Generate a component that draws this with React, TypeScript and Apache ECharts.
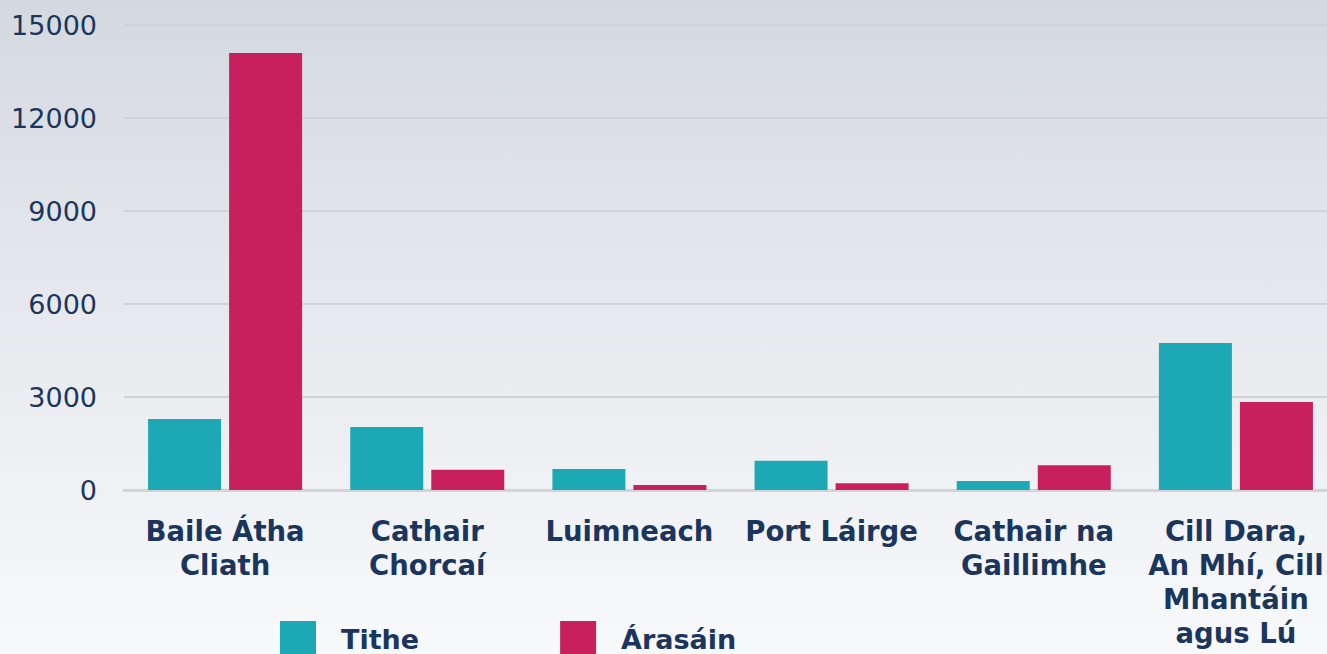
import React, { useEffect, useRef } from "react";
import * as echarts from "echarts";

const categories = [
  "Baile Átha\nCliath",
  "Cathair\nChorcaí",
  "Luimneach",
  "Port Láirge",
  "Cathair na\nGaillimhe",
  "Cill Dara,\nAn Mhí, Cill\nMhantáin\nagus Lú",
];
const tithe = [2290, 2030, 680, 940, 290, 4740];
const arasain = [14100, 650, 160, 220, 800, 2840];
const seriesNames = ["Tithe", "Árasáin"];
const yTicks = { min: 0, max: 15000, interval: 3000 };

const NAVY = "#1b365d";
const FONT = "'DejaVu Sans', sans-serif";

export default function App() {
  const ref = useRef<HTMLDivElement>(null);
  useEffect(() => {
    if (!ref.current) return;
    const chart = echarts.init(ref.current, null, { renderer: "svg" });
    chart.setOption({
      animation: false,
      backgroundColor: "transparent",
      grid: { left: 124, right: 0, top: 25, bottom: 164, containLabel: false },
      legend: {
        data: seriesNames,
        left: 280,
        top: 621,
        padding: 0,
        itemWidth: 36,
        itemHeight: 36,
        itemGap: 141,
        icon: "rect",
        textStyle: {
          color: NAVY,
          fontFamily: FONT,
          fontWeight: "bold",
          fontSize: 27,
          padding: [0, 0, 0, 20],
        },
      },
      xAxis: {
        type: "category",
        data: categories,
        axisLine: { show: true, lineStyle: { color: "#d3d4d7", width: 3 } },
        axisTick: { show: false },
        axisLabel: {
          interval: 0,
          color: NAVY,
          fontFamily: FONT,
          fontWeight: "bold",
          fontSize: 27.5,
          lineHeight: 34,
          margin: 24,
        },
      },
      yAxis: {
        type: "value",
        min: yTicks.min,
        max: yTicks.max,
        interval: yTicks.interval,
        axisLine: { show: false },
        axisTick: { show: false },
        splitLine: { lineStyle: { color: "#d0d2d6", width: 2 } },
        axisLabel: {
          color: NAVY,
          fontFamily: FONT,
          fontSize: 27,
          margin: 27,
          formatter: (v: number) => String(v),
        },
      },
      series: [
        {
          name: seriesNames[0],
          type: "bar",
          data: tithe,
          barWidth: 73,
          barGap: "11%",
          itemStyle: { color: "#1da8b5" },
        },
        {
          name: seriesNames[1],
          type: "bar",
          data: arasain,
          barWidth: 73,
          barGap: "11%",
          itemStyle: { color: "#c8205c" },
        },
      ],
    });
    return () => chart.dispose();
  }, []);
  return (
    <div
      style={{
        position: "fixed",
        left: 0,
        top: 0,
        width: 1327,
        height: 654,
        background: "linear-gradient(180deg, #d4d9e0 0%, #e6e8ed 45%, #f8f9fb 100%)",
        overflow: "hidden",
      }}
    >
      <div ref={ref} style={{ width: 1337, height: 654 }} />
    </div>
  );
}
